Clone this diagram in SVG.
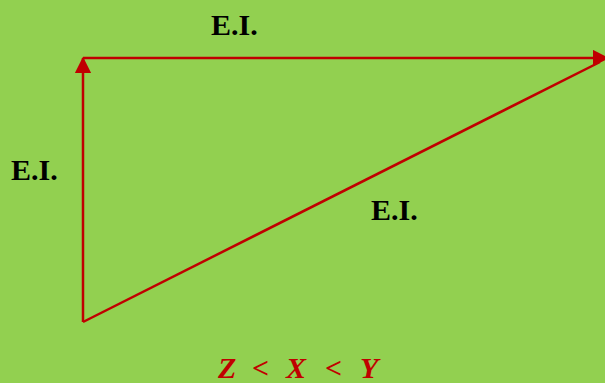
<svg xmlns="http://www.w3.org/2000/svg" width="605" height="383" viewBox="0 0 605 383">
<style>
.ln{stroke:#C00000;stroke-width:2.5;fill:none}
.lbl{font-family:"Liberation Serif",serif;font-weight:bold;font-size:30px;fill:#000}
.eq{font-family:"Liberation Serif",serif;font-weight:bold;font-style:italic;font-size:30px;fill:#C00000}
</style>
<defs>
<marker id="ah" markerWidth="6.5" markerHeight="6.5" refX="6" refY="3.25" orient="auto" markerUnits="strokeWidth" viewBox="0 0 6.5 6.5">
<path d="M0,0 L6.5,3.25 L0,6.5 Z" fill="#C00000"/>
</marker>
</defs>
<rect width="605" height="383" fill="#92D050"/>
<g id="connectors">
<line class="ln" x1="83" y1="322" x2="83" y2="58" marker-end="url(#ah)"/>
<line class="ln" x1="83" y1="58" x2="608" y2="58" marker-end="url(#ah)"/>
<line class="ln" x1="83" y1="322" x2="600" y2="62"/>
</g>
<g id="label-top"><text class="lbl" x="211" y="35">E.I.</text></g>
<g id="label-left"><text class="lbl" x="11" y="180">E.I.</text></g>
<g id="label-diag"><text class="lbl" x="371" y="220">E.I.</text></g>
<g id="equation">
<text class="eq" y="378"><tspan x="218">Z</tspan><tspan x="252">&lt;</tspan><tspan x="286">X</tspan><tspan x="325">&lt;</tspan><tspan x="360">Y</tspan></text>
</g>
</svg>
